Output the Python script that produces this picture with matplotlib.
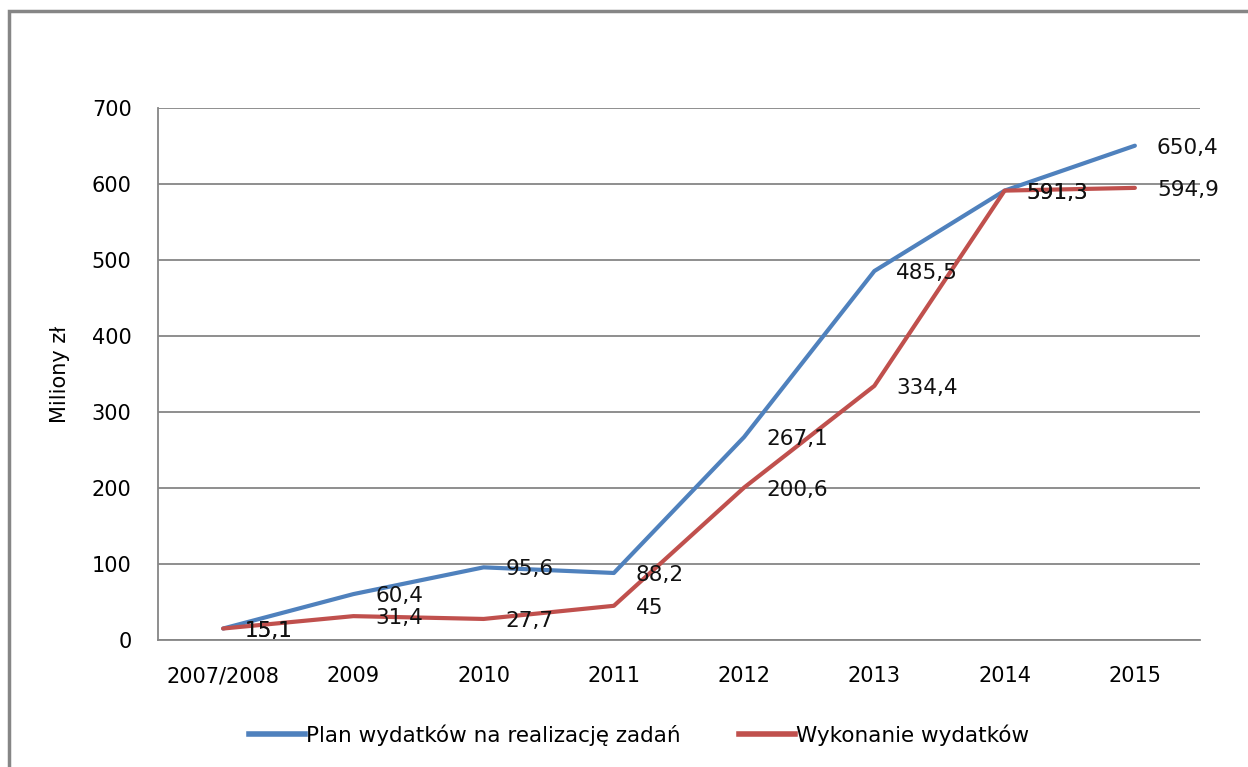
import matplotlib
matplotlib.use("Agg")
import matplotlib.pyplot as plt
from matplotlib.patches import Rectangle
from matplotlib.lines import Line2D

categories = ["2007/2008", "2009", "2010", "2011", "2012", "2013", "2014", "2015"]
plan = [15.1, 60.4, 95.6, 88.2, 267.1, 485.5, 591.3, 650.4]
wykonanie = [15.1, 31.4, 27.7, 45.0, 200.6, 334.4, 591.3, 594.9]
plan_labels = ["15,1", "60,4", "95,6", "88,2", "267,1", "485,5", "591,3", "650,4"]
wyk_labels = ["15,1", "31,4", "27,7", "45", "200,6", "334,4", "591,3", "594,9"]
yticks = [0, 100, 200, 300, 400, 500, 600, 700]

W, H = 1248, 767
fig = plt.figure(figsize=(W / 100, H / 100), dpi=100)
ax = fig.add_axes([158 / W, 1 - 640 / H, (1200 - 158) / W, (640 - 108) / H])

# outer border
fig.patches.append(Rectangle((9 / W, -0.1), 1.2, 1 - 11 / H + 0.1, transform=fig.transFigure,
                             fill=False, edgecolor="#868686", linewidth=2.5))

blue = "#4F81BD"
red = "#C0504D"
x = list(range(len(categories)))
ax.plot(x, plan, color=blue, lw=3.0, solid_capstyle="round", zorder=3)
ax.plot(x, wykonanie, color=red, lw=3.0, solid_capstyle="round", zorder=3)

for xi, v, t in zip(x, plan, plan_labels):
    ax.annotate(t, (xi, v), xytext=(22, -2), textcoords="offset pixels", ha="left", va="center",
                fontsize=15.5, color="#111111", zorder=4)
for xi, v, t in zip(x, wykonanie, wyk_labels):
    ax.annotate(t, (xi, v), xytext=(22, -2), textcoords="offset pixels", ha="left", va="center",
                fontsize=15.5, color="#111111", zorder=4)

ax.set_xlim(-0.5, len(categories) - 0.5)
ax.set_ylim(0, 700)
ax.set_yticks(yticks)
ax.set_yticklabels([str(v) for v in yticks], fontsize=15)
ax.set_xticks(x)
ax.set_xticklabels(categories, fontsize=15)
ax.tick_params(axis="both", length=0)
ax.tick_params(axis="x", pad=19)
ax.tick_params(axis="y", pad=19)
ax.yaxis.grid(True, color="#868686", lw=1.3)
ax.set_axisbelow(True)
for s in ["top", "right"]:
    ax.spines[s].set_visible(False)
for s in ["left", "bottom"]:
    ax.spines[s].set_color("#868686")
    ax.spines[s].set_linewidth(1.3)

ax.set_ylabel("Miliony zł", fontsize=15, labelpad=16)

handles = [Line2D([], [], color=blue, lw=4), Line2D([], [], color=red, lw=4)]
fig.legend(handles, ["Plan wydatków na realizację zadań", "Wykonanie wydatków"],
           loc="center", bbox_to_anchor=(639 / W, 1 - 735 / H), ncol=2, frameon=False,
           prop={"size": 15.5}, handlelength=2.6,
           handletextpad=0.05, columnspacing=2.7)

fig.savefig("out.png", dpi=100)
